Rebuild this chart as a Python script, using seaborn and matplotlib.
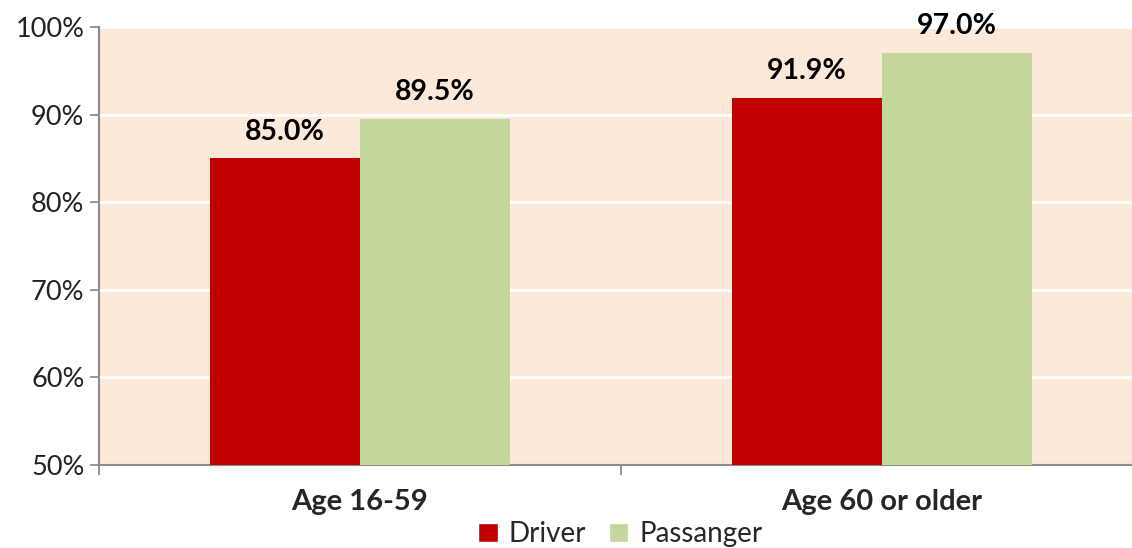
import matplotlib
matplotlib.use("Agg")
import matplotlib.pyplot as plt
import seaborn as sns
import pandas as pd
from matplotlib.ticker import FixedLocator, FuncFormatter
from matplotlib.patches import Patch

categories = ["Age 16-59", "Age 60 or older"]
series_names = ["Driver", "Passanger"]
driver = [85.0, 91.9]
passenger = [89.5, 97.0]
y_ticks = [50, 60, 70, 80, 90, 100]
colors = {"Driver": "#C00000", "Passanger": "#C4D79B"}

df = pd.DataFrame({
    "category": categories * 2,
    "series": [series_names[0]] * 2 + [series_names[1]] * 2,
    "value": driver + passenger,
})

sns.set_theme(style="white")
plt.rcParams["font.family"] = ["Lato", "DejaVu Sans"]

fig = plt.figure(figsize=(11.32, 5.48), dpi=100)
ax = fig.add_axes([99 / 1132, 1 - 465 / 548, 1044 / 1132, (465 - 27) / 548])
ax.set_facecolor("#FDE9DA")

sns.barplot(data=df, x="category", y="value", hue="series", order=categories,
            hue_order=series_names, palette=colors, width=0.575, saturation=1,
            ax=ax, legend=False, zorder=3, linewidth=0, edgecolor="none")

ax.set_ylim(50, 100)
ax.set_xlim(-0.5, 1.5)
ax.yaxis.set_major_locator(FixedLocator(y_ticks))
ax.yaxis.set_major_formatter(FuncFormatter(lambda v, p: f"{v:.0f}%"))
ax.grid(axis="y", color="white", linewidth=2, zorder=0)
ax.set_axisbelow(True)

for s in ["top", "right"]:
    ax.spines[s].set_visible(False)
for s in ["left", "bottom"]:
    ax.spines[s].set_color("#8C8C8C")
    ax.spines[s].set_linewidth(1.5)

ax.tick_params(axis="y", which="major", left=True, length=6.5, width=1.3,
               color="#8C8C8C", labelsize=19.5, pad=4, labelcolor="#222222")
ax.tick_params(axis="x", which="major", length=0, labelsize=21, pad=17)
ax.xaxis.set_minor_locator(FixedLocator([-0.5, 0.5, 1.5]))
ax.tick_params(axis="x", which="minor", bottom=True, length=7, width=1.3, color="#8C8C8C")
for lbl in ax.get_xticklabels():
    lbl.set_fontweight("bold")
ax.set_xlabel("")
ax.set_ylabel("")

for cont in ax.containers:
    ax.bar_label(cont, labels=[f"{b.get_height():.1f}%" for b in cont],
                 padding=10, fontsize=20.5, fontweight="bold", color="black")

handles = [Patch(facecolor=colors[n], label=n) for n in series_names]
fig.legend(handles=handles, loc="center", bbox_to_anchor=(0.548, 1 - 534 / 548),
           ncol=2, frameon=False, fontsize=20, handlelength=0.7, handleheight=0.7,
           handletextpad=0.4, columnspacing=0.8, borderpad=0)

fig.savefig("out.png", dpi=100)
